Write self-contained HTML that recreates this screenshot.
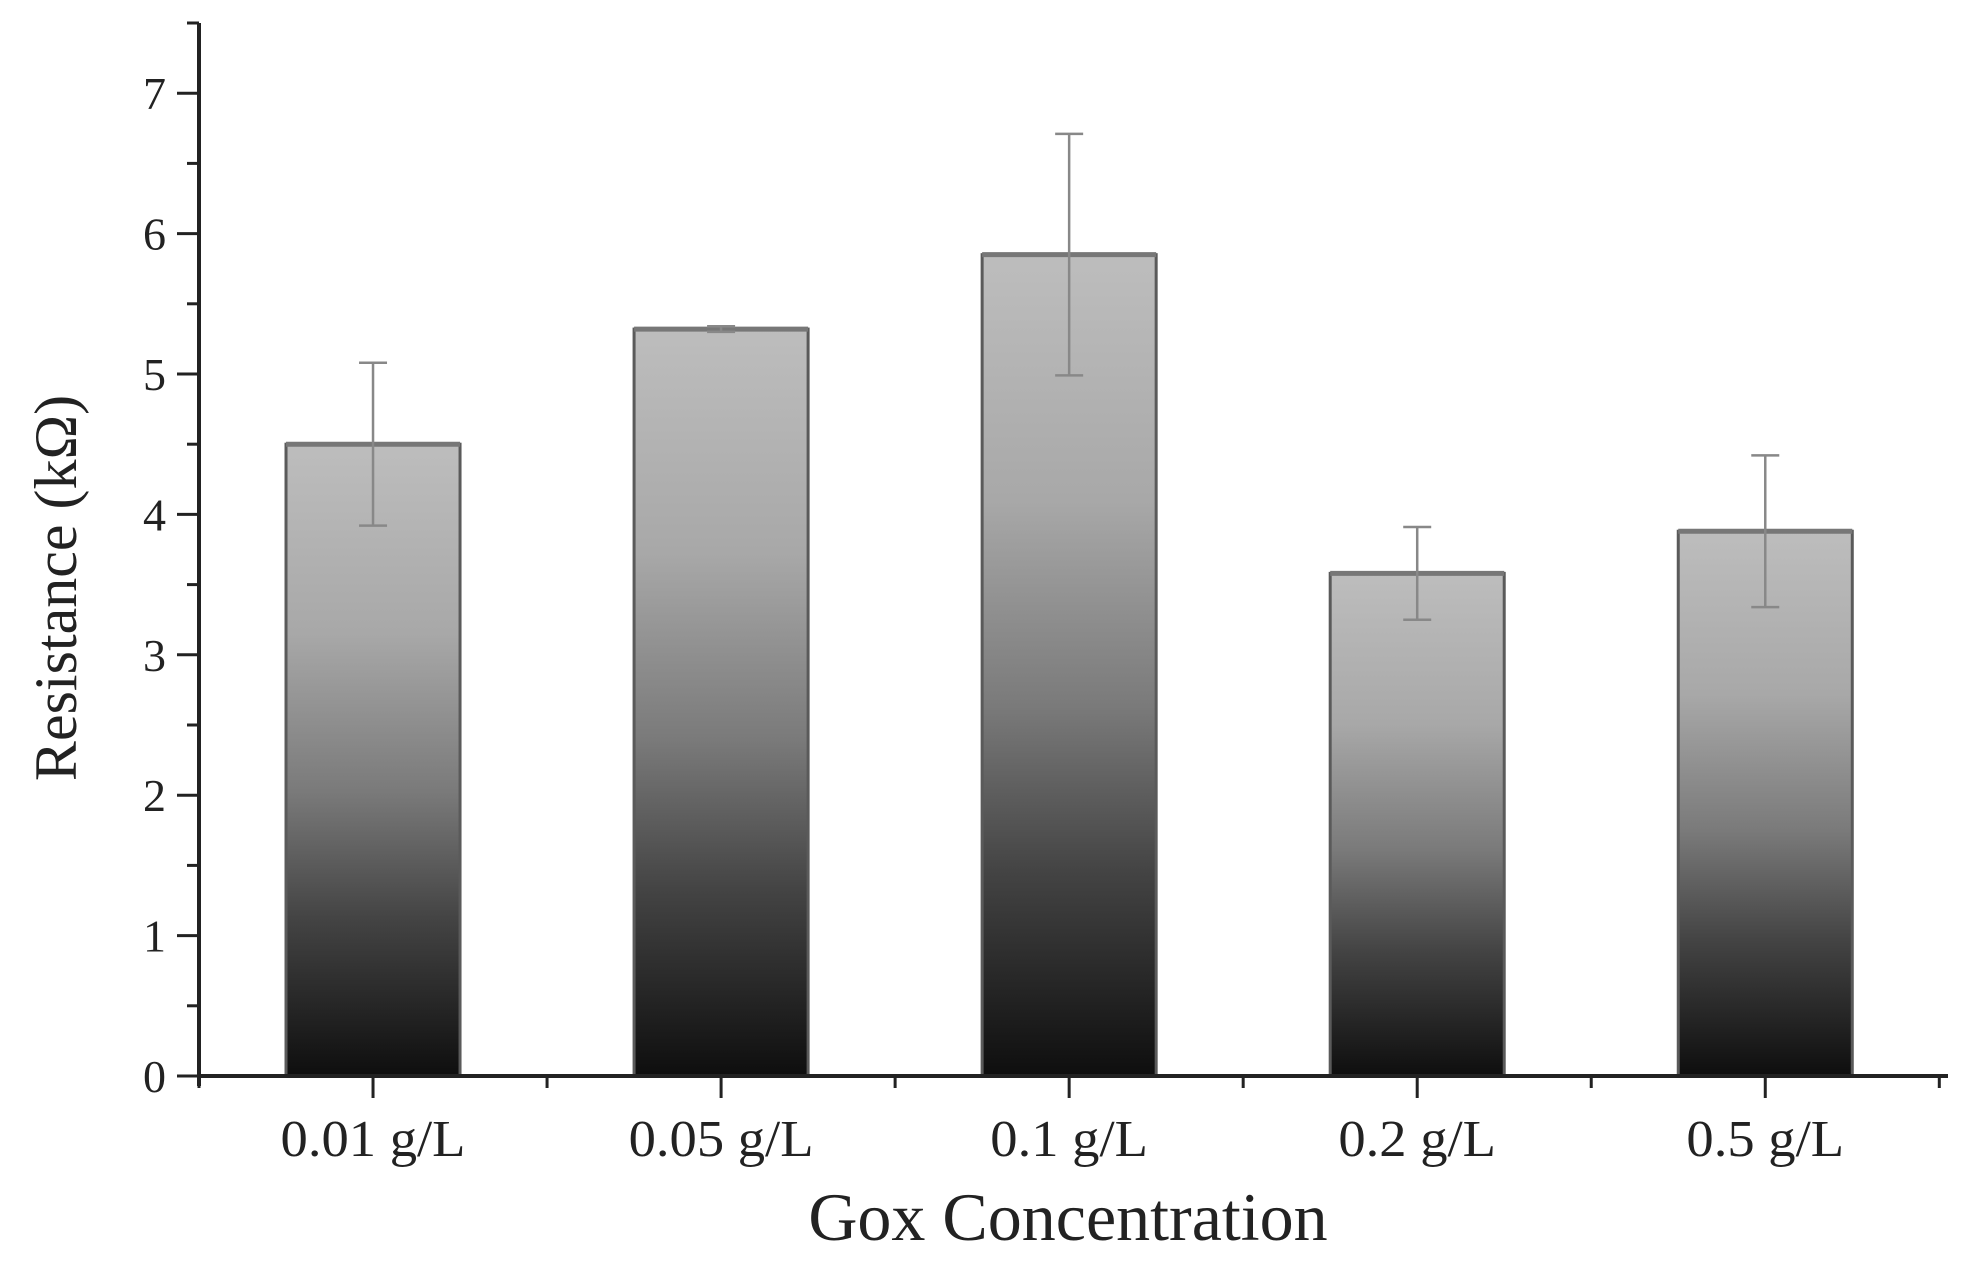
<!DOCTYPE html>
<html><head><meta charset="utf-8"><style>
html,body{margin:0;padding:0;background:#fff;}
svg{display:block;}
</style></head><body>
<svg id="chart" width="1971" height="1269" viewBox="0 0 1971 1269" xmlns="http://www.w3.org/2000/svg">
<defs>
<linearGradient id="barGrad" x1="0" y1="0" x2="0" y2="1">
<stop offset="0" stop-color="#bdbdbd"/>
<stop offset="0.3" stop-color="#a8a8a8"/>
<stop offset="0.55" stop-color="#7a7a7a"/>
<stop offset="0.75" stop-color="#444"/>
<stop offset="1" stop-color="#0e0e0e"/>
</linearGradient>
</defs>
<g id="bars"></g>
<g id="axes"></g>
</svg>
<script>
const categories = ["0.01 g/L","0.05 g/L","0.1 g/L","0.2 g/L","0.5 g/L"];
const values = [4.5, 5.32, 5.85, 3.58, 3.88];
const errors = [0.58, 0.02, 0.86, 0.33, 0.54];
const yTicks = [0,1,2,3,4,5,6,7];

const X0 = 199, X1 = 1948, Y0 = 1076, Y1 = 23;
const xMin = 0.5, xMax = 5.525, yMin = 0, yMax = 7.5;
const xs = v => X0 + (v - xMin) / (xMax - xMin) * (X1 - X0);
const ys = v => Y0 - (v - yMin) / (yMax - yMin) * (Y0 - Y1);
const NS = "http://www.w3.org/2000/svg";
function mk(tag, attrs, parent){const e=document.createElementNS(NS,tag);for(const k in attrs)e.setAttribute(k,attrs[k]);parent.appendChild(e);return e;}
const bars = document.getElementById('bars');
const axes = document.getElementById('axes');
const bw = (xs(2)-xs(1))*0.5;

categories.forEach((c,i)=>{
  const cx = xs(i+1), top = ys(values[i]);
  const r = mk('rect',{x:cx-bw/2,y:top,width:bw,height:Y0-top,fill:'url(#barGrad)',stroke:'#5a5a5a','stroke-width':3},bars);
  
  
  const l = mk('line',{x1:cx-bw/2,x2:cx+bw/2,y1:top,y2:top,stroke:'#777','stroke-width':5},bars);
  
  
  const eg = mk('g',{stroke:'#888','stroke-width':2.5},bars);
  
  
  const hi = ys(values[i]+errors[i]), lo = ys(values[i]-errors[i]);
  mk('line',{x1:cx,x2:cx,y1:hi,y2:lo},eg);
  mk('line',{x1:cx-14,x2:cx+14,y1:hi,y2:hi},eg);
  mk('line',{x1:cx-14,x2:cx+14,y1:lo,y2:lo},eg);
  const t = mk('text',{x:cx,y:Y0+80,'text-anchor':'middle','font-family':'Liberation Serif, serif','font-size':52,fill:'#222',transform:`translate(${cx},0) scale(1.05,1) translate(${-cx},0)`},axes);
  t.textContent = c;
  
  
  const tk = mk('line',{x1:cx,x2:cx,y1:Y0,y2:Y0+22,stroke:'#222','stroke-width':3},axes);
  
  
});
for(let i=0;i<=categories.length;i++){
  const mx = xs(i+0.5);
  const m = mk('line',{x1:mx,x2:mx,y1:Y0,y2:Y0+12,stroke:'#222','stroke-width':3},axes);
  
  
}
yTicks.forEach(v=>{
  const y = ys(v);
  const tk = mk('line',{x1:X0-22,x2:X0,y1:y,y2:y,stroke:'#222','stroke-width':3},axes);
  
  
  const t = mk('text',{x:X0-33,y:y+16,'text-anchor':'end','font-family':'Liberation Serif, serif','font-size':46,fill:'#222'},axes);
  t.textContent = v;
  
  
  const my = ys(v+0.5);
  if(v+0.5<=yMax){
    const m = mk('line',{x1:X0-12,x2:X0,y1:my,y2:my,stroke:'#222','stroke-width':3},axes);
    
    
  }
});
const xa = mk('line',{x1:X0-2,x2:X1,y1:Y0,y2:Y0,stroke:'#222','stroke-width':4},axes);


const ya = mk('line',{x1:X0,x2:X0,y1:Y1,y2:Y0+10,stroke:'#222','stroke-width':4},axes);


const xt = mk('text',{x:1068,y:1240,'text-anchor':'middle','font-family':'Liberation Serif, serif','font-size':68,fill:'#222'},axes);
xt.textContent = 'Gox Concentration';


const yt = mk('text',{x:0,y:0,'text-anchor':'middle','font-family':'Liberation Serif, serif','font-size':60,fill:'#222',transform:'translate(76,588) rotate(-90)'},axes);
yt.textContent = 'Resistance (kΩ)';


</script>
</body></html>
